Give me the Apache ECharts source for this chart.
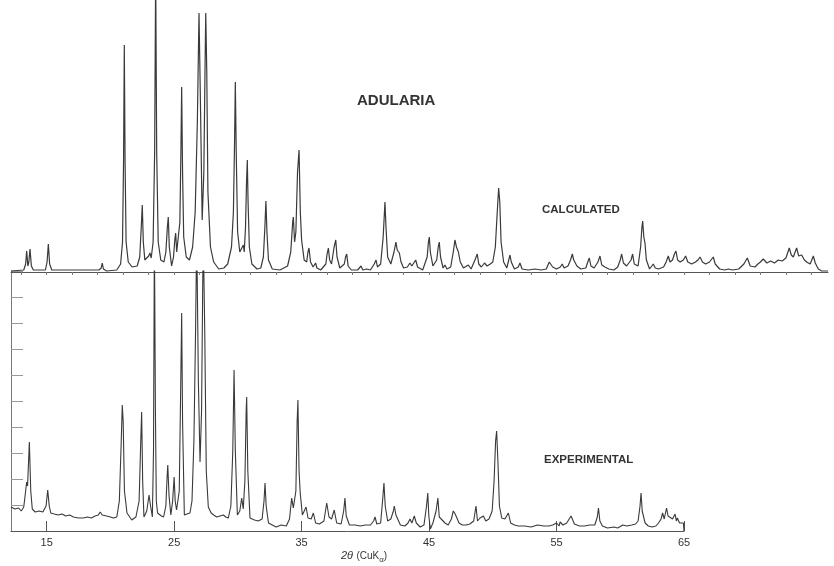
<!DOCTYPE html>
<html><head><meta charset="utf-8">
<script src="https://cdn.jsdelivr.net/npm/echarts@6/dist/echarts.min.js"></script>
<style>html,body{margin:0;padding:0;background:#fff}#c{width:834px;height:566px}</style>
</head><body><div id="c"></div>
<script>
// 2θ (deg) , intensity (arbitrary units)
const calculated = [
[12.2,1],[13.2,2],[13.35,8],[13.43,21],[13.52,6],[13.6,10],[13.69,23],[13.8,6],[13.95,2],[14.9,2],[15.03,10],[15.13,28],[15.23,8],[15.4,2],
[19.1,2],[19.28,4],[19.36,9],[19.45,3],[19.7,1],
[20.5,2],[20.8,8],[20.95,30],[21.03,110],[21.09,227],[21.15,110],[21.23,30],[21.4,10],[21.7,5],[22.1,6],[22.3,15],[22.42,45],[22.5,67],[22.58,30],[22.7,12],[22.85,10],[23.0,16],[23.1,19],[23.2,14],[23.35,30],[23.47,120],[23.55,300],[23.63,120],[23.75,30],[23.95,12],[24.2,10],[24.35,20],[24.47,45],[24.54,55],[24.62,25],[24.8,6],[24.95,15],[25.05,32],[25.12,39],[25.2,20],[25.3,22],[25.45,50],[25.53,120],[25.59,185],[25.66,100],[25.75,35],[25.95,15],[26.2,12],[26.45,25],[26.65,60],[26.82,150],[26.95,259],[27.05,180],[27.2,52],[27.33,100],[27.42,200],[27.48,259],[27.56,200],[27.65,80],[27.85,25],[28.1,10],[28.5,3],[28.9,4],[29.2,8],[29.5,25],[29.65,60],[29.74,130],[29.8,190],[29.87,120],[29.98,40],[30.15,20],[30.3,22],[30.43,27],[30.5,20],[30.6,45],[30.68,90],[30.74,112],[30.8,70],[30.9,25],[31.1,8],[31.5,3],[31.8,4],[32.0,15],[32.12,45],[32.2,71],[32.28,40],[32.4,12],[32.7,3],[33.3,2],[33.9,6],[34.15,20],[34.3,50],[34.35,55],[34.45,30],[34.55,40],[34.68,100],[34.8,122],[34.9,60],[35.0,32],[35.2,12],[35.4,10],[35.5,20],[35.58,24],[35.7,10],[35.9,5],[36.0,7],[36.1,9],[36.2,4],[36.5,2],[36.9,8],[37.0,18],[37.1,24],[37.2,12],[37.35,8],[37.55,25],[37.68,32],[37.78,15],[38.0,4],[38.35,8],[38.45,15],[38.54,18],[38.65,6],[38.9,2],[39.4,2],[39.66,6],[39.8,2],[40.1,3],[40.4,2],[40.7,8],[40.84,12],[40.95,5],[41.2,8],[41.4,35],[41.5,60],[41.54,70],[41.62,45],[41.75,15],[42.0,8],[42.25,20],[42.4,30],[42.5,22],[42.67,19],[42.8,10],[43.0,4],[43.3,5],[43.5,9],[43.65,6],[43.8,8],[43.95,12],[44.1,5],[44.5,2],[44.85,15],[44.95,30],[45.02,35],[45.1,20],[45.3,6],[45.6,12],[45.72,25],[45.8,30],[45.9,15],[46.1,4],[46.25,7],[46.4,3],[46.7,5],[46.9,20],[47.03,32],[47.15,25],[47.3,20],[47.45,10],[47.7,4],[48.08,7],[48.3,3],[48.6,12],[48.78,18],[48.9,8],[49.1,5],[49.35,9],[49.55,6],[49.8,8],[50.0,10],[50.2,25],[50.35,60],[50.46,84],[50.55,70],[50.65,30],[50.85,10],[51.1,4],[51.25,12],[51.35,17],[51.45,10],[51.7,3],[52.0,5],[52.13,9],[52.3,3],[52.8,2],[53.3,3],[53.8,2],[54.2,3],[54.43,10],[54.57,12],[54.7,5],[55.0,3],[55.3,5],[55.45,8],[55.6,4],[55.9,6],[56.1,12],[56.24,18],[56.35,12],[56.6,6],[56.9,3],[57.3,4],[57.45,10],[57.57,14],[57.7,6],[57.95,4],[58.25,10],[58.41,16],[58.55,7],[58.8,5],[59.1,3],[59.5,2],[59.8,5],[60.0,12],[60.11,18],[60.25,9],[60.5,6],[60.85,12],[60.97,18],[61.1,8],[61.4,6],[61.6,25],[61.7,45],[61.76,51],[61.85,35],[61.94,29],[62.05,12],[62.3,3],[62.59,8],[62.75,4],[63.0,3],[63.4,5],[63.6,10],[63.77,16],[63.9,10],[64.1,12],[64.25,18],[64.37,21],[64.5,12],[64.7,10],[64.95,12],[65.13,16],[65.3,10],[65.6,8],[65.9,10],[66.1,12],[66.26,15],[66.45,10],[66.7,8],[67.0,10],[67.15,12],[67.3,15],[67.45,8],[67.8,3],[68.2,2],[68.48,3],[68.8,2],[69.3,3],[69.7,8],[69.97,14],[70.2,6],[70.57,5],[70.8,8],[71.0,10],[71.22,13],[71.5,9],[71.8,11],[72.1,9],[72.4,12],[72.7,11],[73.0,14],[73.26,24],[73.42,17],[73.58,15],[73.72,20],[73.84,24],[74.0,16],[74.23,17],[74.45,12],[74.63,10],[74.9,8],[75.15,16],[75.3,9],[75.54,3],[75.8,1],[76.3,1]
];
const experimental = [
[12.2,24],[12.5,22],[12.8,23],[13.0,20],[13.2,24],[13.35,40],[13.43,49],[13.5,45],[13.64,89],[13.75,40],[13.87,22],[14.1,19],[14.4,20],[14.7,19],[14.95,25],[15.08,41],[15.2,25],[15.32,18],[15.6,17],[15.9,16],[16.2,17],[16.5,15],[16.8,16],[17.1,14],[17.5,13],[17.87,13],[18.2,14],[18.5,13],[18.8,15],[19.05,16],[19.2,19],[19.35,16],[19.7,15],[20.0,14],[20.23,13],[20.5,14],[20.7,30],[20.85,90],[20.93,126],[21.0,110],[21.1,40],[21.3,18],[21.67,11],[22.0,14],[22.25,30],[22.38,90],[22.45,119],[22.53,50],[22.63,14],[22.85,20],[23.03,36],[23.15,25],[23.29,14],[23.38,80],[23.45,300],[23.53,120],[23.6,30],[23.7,18],[24.0,15],[24.17,14],[24.35,25],[24.45,55],[24.5,66],[24.6,35],[24.74,16],[24.88,30],[25.0,54],[25.08,30],[25.19,21],[25.4,40],[25.52,150],[25.59,218],[25.66,110],[25.8,16],[26.0,17],[26.24,18],[26.4,30],[26.55,90],[26.68,200],[26.77,300],[26.9,150],[27.03,69],[27.15,120],[27.28,300],[27.4,200],[27.52,60],[27.68,24],[27.9,18],[28.1,16],[28.34,14],[28.6,15],[28.86,16],[29.05,14],[29.25,13],[29.45,25],[29.6,80],[29.7,161],[29.8,80],[29.96,16],[30.15,20],[30.3,33],[30.42,22],[30.55,50],[30.65,120],[30.69,134],[30.78,60],[30.95,13],[31.3,11],[31.6,10],[31.9,12],[32.05,30],[32.13,48],[32.22,25],[32.4,8],[32.7,6],[33.0,4],[33.4,6],[33.8,5],[34.05,12],[34.22,33],[34.35,23],[34.55,40],[34.65,110],[34.71,131],[34.8,60],[34.89,38],[35.06,16],[35.2,15],[35.35,24],[35.5,13],[35.75,12],[35.92,18],[36.1,8],[36.4,7],[36.75,10],[36.97,28],[37.15,14],[37.35,12],[37.56,21],[37.75,8],[38.1,7],[38.3,20],[38.4,33],[38.5,15],[38.75,6],[39.2,6],[39.6,5],[40.0,6],[40.4,6],[40.65,10],[40.76,14],[40.9,7],[41.2,8],[41.35,30],[41.46,48],[41.56,25],[41.75,10],[42.0,12],[42.2,20],[42.27,25],[42.4,16],[42.54,15],[42.75,6],[43.1,5],[43.35,8],[43.5,12],[43.65,8],[43.84,15],[44.0,8],[44.3,4],[44.6,6],[44.8,25],[44.9,38],[44.98,15],[45.1,2],[45.3,8],[45.55,20],[45.69,33],[45.8,14],[45.95,12],[46.25,8],[46.5,6],[46.75,12],[46.9,20],[47.05,17],[47.17,16],[47.35,8],[47.6,6],[47.9,6],[48.2,7],[48.5,10],[48.62,20],[48.68,25],[48.8,10],[49.0,13],[49.26,15],[49.45,10],[49.7,12],[49.95,20],[50.1,50],[50.22,90],[50.3,100],[50.4,70],[50.52,25],[50.7,13],[50.95,12],[51.22,18],[51.4,8],[51.7,6],[52.0,5],[52.5,5],[53.0,4],[53.5,6],[54.0,5],[54.4,5],[54.7,6],[55.0,8],[55.2,5],[55.28,9],[55.5,6],[55.8,8],[56.14,15],[56.4,7],[56.8,5],[57.2,5],[57.6,6],[58.0,6],[58.2,14],[58.29,23],[58.4,10],[58.6,5],[59.0,3],[59.5,4],[59.8,3],[60.2,6],[60.5,5],[60.9,6],[61.2,7],[61.4,10],[61.55,25],[61.63,38],[61.72,20],[61.81,19],[61.95,8],[62.2,5],[62.5,4],[62.8,5],[63.0,8],[63.2,12],[63.32,18],[63.45,12],[63.63,23],[63.75,15],[63.9,15],[64.1,12],[64.3,17],[64.4,10],[64.48,13],[64.65,8],[64.8,10],[64.95,8],[65.0,0]
];
const bottomTicks = [15, 25, 35, 45, 55, 65];
const topTicks = [13,15,17,19,21,23,25,27,29,31,33,35,37,39,41,43,45,47,49,51,53,55,57,59,61,63,65,67,69,71,73,75];
const expTicks = [26,52,78,104,130,156,182,208,234,260];

const ink = '#3a3a3a';
const chart = echarts.init(document.getElementById('c'), null, {renderer: 'canvas'});
chart.setOption({
  animation: false,
  backgroundColor: '#fff',
  grid: [
    {left: 11, top: 0, width: 817, height: 272, containLabel: false, outerBoundsMode: 'none'},
    {left: 11, top: 271, width: 673, height: 260, containLabel: false, outerBoundsMode: 'none'}
  ],
  xAxis: [
    {type: 'value', gridIndex: 0, min: 12.2, max: 76.3,
     axisLine: {show: true, onZero: false, lineStyle: {color: '#555', width: 1}},
     axisTick: {show: true, customValues: topTicks, length: 3, lineStyle: {color: '#777'}},
     axisLabel: {show: false}, splitLine: {show: false}},
    {type: 'value', gridIndex: 1, min: 12.2, max: 65,
     axisLine: {show: true, onZero: false, lineStyle: {color: '#555', width: 1}},
     axisTick: {show: true, customValues: bottomTicks, inside: true, length: 10, lineStyle: {color: '#555'}},
     axisLabel: {show: true, customValues: bottomTicks, margin: 6, color: '#333', fontSize: 11, fontFamily: 'Liberation Sans'},
     splitLine: {show: false}}
  ],
  yAxis: [
    {type: 'value', gridIndex: 0, min: 0, max: 272, show: false},
    {type: 'value', gridIndex: 1, min: 0, max: 260,
     axisLine: {show: true, lineStyle: {color: '#777', width: 1}},
     axisTick: {show: true, customValues: expTicks, inside: true, length: 12, lineStyle: {color: '#999'}},
     axisLabel: {show: false}, splitLine: {show: false}}
  ],
  series: [
    {type: 'line', xAxisIndex: 0, yAxisIndex: 0, data: calculated, showSymbol: false, clip: true,
     lineStyle: {color: ink, width: 1.2}, z: 3},
    {type: 'line', xAxisIndex: 1, yAxisIndex: 1, data: experimental, showSymbol: false, clip: true,
     lineStyle: {color: ink, width: 1.1}, z: 3}
  ],
  graphic: [
    {type: 'text', left: 357, top: 93, style: {text: 'ADULARIA', fill: '#333', font: 'bold 15px "Liberation Sans"'}},
    {type: 'text', left: 542, top: 204, style: {text: 'CALCULATED', fill: '#333', font: 'bold 11.5px "Liberation Sans"'}},
    {type: 'text', left: 544, top: 454, style: {text: 'EXPERIMENTAL', fill: '#333', font: 'bold 11.5px "Liberation Sans"'}},
    {type: 'text', left: 341, top: 550, style: {
      text: '{i|2θ} {b|(CuK}{s|α}{b|)}',
      rich: {
        i: {fontSize: 11, fontStyle: 'italic', fill: '#333', fontFamily: 'Liberation Sans'},
        b: {fontSize: 10, fill: '#333', fontFamily: 'Liberation Sans'},
        s: {fontSize: 8, fill: '#333', fontFamily: 'Liberation Sans', padding: [8, 0, 0, 0]}
      }}}
  ]
});
</script>
</body></html>
